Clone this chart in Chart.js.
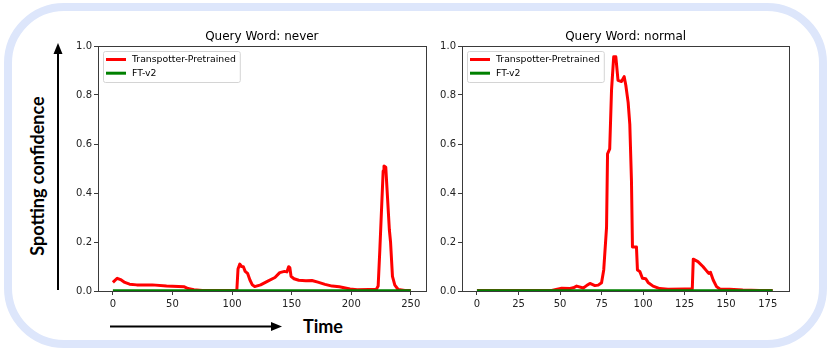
<!DOCTYPE html>
<html>
<head>
<meta charset="utf-8">
<script src="https://cdn.jsdelivr.net/npm/chart.js@4.4.1/dist/chart.umd.min.js"></script>
<style>
  html, body { margin: 0; padding: 0; background: #fff; }
  #page { position: relative; width: 830px; height: 352px; overflow: hidden; }
  #frame { position: absolute; left: 4px; top: 3px; width: 823px; height: 345px; box-sizing: border-box;
           border: 8px solid #dde6fb; border-radius: 60px; }
  canvas { position: absolute; }
  #neverChart { left: 60px; top: 20px; }
  #normalChart { left: 430px; top: 20px; }
  svg { position: absolute; left: 0; top: 0; }
  .axisLabel { position: absolute; font-family: Lato, sans-serif; font-weight: 700; color: #000; white-space: nowrap; line-height: 1; }
  #ylabel { left: 37px; top: 176px; font-size: 18px; transform: translate(-50%, -50%) rotate(-90deg); }
  #xlabel { left: 303px; top: 326px; font-size: 18px; transform: translateY(-50%); }
</style>
</head>
<body>
<div id="page">
  <div id="frame"></div>
  <svg width="830" height="352">
    <line x1="58" y1="290" x2="58" y2="52" stroke="#000" stroke-width="2"/>
    <polygon points="58,43 53.5,54 62.5,54" fill="#000"/>
    <line x1="110" y1="326.5" x2="272" y2="326.5" stroke="#000" stroke-width="2"/>
    <polygon points="282,326.5 271,322 271,331" fill="#000"/>
  </svg>
  <div class="axisLabel" id="ylabel">Spotting confidence</div>
  <div class="axisLabel" id="xlabel">Time</div>
  <canvas id="neverChart" width="372" height="293"></canvas>
  <canvas id="normalChart" width="365" height="293"></canvas>
</div>
<script>
// series labels
const seriesNames = ['Transpotter-Pretrained', 'FT-v2'];

// query word "never"
const neverX = [0, 3.6, 7, 10, 14, 20, 33, 45, 55, 60, 63, 68, 75, 104, 105, 106.5, 108, 109.5, 111, 113, 115, 117, 119,
  124, 130, 136, 140, 144, 146, 147.5, 148.5, 149.5, 152, 156, 162, 167, 172, 178, 184, 190, 195, 199, 205, 215, 221,
  222.6, 224, 226.8, 227.5, 229, 230, 232, 233, 234.6, 236.6, 239.4, 245, 250];
const neverY = [0.035, 0.052, 0.045, 0.035, 0.028, 0.025, 0.025, 0.02, 0.018, 0.017, 0.01, 0.005, 0.002, 0.002, 0.09, 0.11, 0.1, 0.099, 0.08, 0.072, 0.045, 0.025, 0.018,
  0.025, 0.04, 0.055, 0.075, 0.08, 0.078, 0.099, 0.095, 0.06, 0.05, 0.044, 0.042, 0.043, 0.036, 0.027, 0.02, 0.017, 0.012, 0.008, 0.005, 0.006, 0.006,
  0.02, 0.167, 0.49, 0.51, 0.505, 0.42, 0.25, 0.2, 0.06, 0.024, 0.006, 0.002, 0.002];
const neverFtX = [0, 250];
const neverFtY = [0.002, 0.002];

// query word "normal"
const normalX = [0, 45, 47, 51, 56, 58, 60, 64, 66, 68, 71, 73, 75, 76.3, 78, 78.6, 79.9, 81, 82.3, 83.6, 84.9, 87, 88.6, 89.6,
  91, 92, 93, 93.6, 96, 96.6, 98, 99.6, 101.6, 103, 106, 110, 115, 125, 129.6, 130.2, 133, 136, 138.6, 139.6, 140.6, 142.2,
  144.2, 146.2, 152, 160, 170, 178];
const normalY = [0.002, 0.002, 0.005, 0.011, 0.01, 0.013, 0.02, 0.012, 0.022, 0.031, 0.022, 0.024, 0.034, 0.086, 0.26, 0.56, 0.58, 0.82, 0.956, 0.956, 0.86, 0.855, 0.875, 0.84,
  0.77, 0.68, 0.45, 0.18, 0.18, 0.086, 0.08, 0.052, 0.05, 0.035, 0.02, 0.01, 0.007, 0.008, 0.008, 0.13, 0.12, 0.1, 0.079, 0.072, 0.076, 0.045,
  0.018, 0.008, 0.007, 0.004, 0.002, 0.002];
const normalFtX = [0, 178];
const normalFtY = [0.002, 0.002];

const neverTicks = [0, 50, 100, 150, 200, 250];
const normalTicks = [0, 25, 50, 75, 100, 125, 150, 175];
const yTicks = [0, 0.2, 0.4, 0.6, 0.8, 1.0];

const toPoints = (xs, ys) => xs.map((x, i) => ({ x, y: ys[i] }));

// title over the plot, box spines, legend inside the plot
const plotDecor = {
  id: 'plotDecor',
  afterDatasetsDraw(chart, args, opts) {
    const { ctx, chartArea: a } = chart;
    ctx.save();
    ctx.strokeStyle = '#3a3a3a';
    ctx.lineWidth = 1;
    ctx.strokeRect(Math.round(a.left) + 0.5, Math.round(a.top) + 0.5, Math.round(a.right - a.left), Math.round(a.bottom - a.top));

    ctx.font = '12px "DejaVu Sans"';
    ctx.fillStyle = '#000';
    ctx.textAlign = 'center';
    ctx.textBaseline = 'middle';
    ctx.fillText(opts.text, (a.left + a.right) / 2, a.top - 9.5);

    ctx.font = '9.3px "DejaVu Sans"';
    const sets = chart.data.datasets;
    const w = Math.max(...sets.map(d => ctx.measureText(d.label).width)) + 33;
    const x = a.left + 5, y = a.top + 5, h = 31;
    ctx.beginPath();
    ctx.roundRect(x + 0.5, y + 0.5, w, h, 2);
    ctx.fillStyle = 'rgba(255,255,255,0.8)';
    ctx.fill();
    ctx.strokeStyle = '#d4d4d4';
    ctx.stroke();
    ctx.textAlign = 'left';
    sets.forEach((d, i) => {
      const cy = y + 8.5 + i * 13.7;
      ctx.beginPath();
      ctx.moveTo(x + 3, cy);
      ctx.lineTo(x + 23, cy);
      ctx.strokeStyle = d.borderColor;
      ctx.lineWidth = 3;
      ctx.stroke();
      ctx.fillStyle = '#000';
      ctx.fillText(d.label, x + 29, cy);
    });
    ctx.restore();
  }
};

function makeChart(id, title, red, green, xMin, xMax, xTicks, yWidth, padRight) {
  new Chart(document.getElementById(id), {
    type: 'line',
    data: {
      datasets: [
        { label: seriesNames[0], data: red, borderColor: '#ff0000', borderWidth: 3, pointRadius: 0, tension: 0, order: 1, borderJoinStyle: 'round' },
        { label: seriesNames[1], data: green, borderColor: '#008000', borderWidth: 2.5, pointRadius: 0, tension: 0, order: 0 }
      ]
    },
    options: {
      responsive: false,
      animation: false,
      devicePixelRatio: 1,
      layout: { padding: { top: 26, right: padRight, left: 0, bottom: 0 } },
      plugins: {
        legend: { display: false },
        tooltip: { enabled: false },
        plotDecor: { text: title }
      },
      scales: {
        x: {
          type: 'linear', min: xMin, max: xMax,
          afterBuildTicks: s => { s.ticks = xTicks.map(v => ({ value: v })); },
          afterFit: s => { s.height = 22; },
          grid: { drawOnChartArea: false, drawTicks: true, tickLength: 4, color: '#3a3a3a' },
          border: { display: true, color: '#3a3a3a', width: 1 },
          ticks: { font: { family: 'DejaVu Sans', size: 10 }, color: '#222', padding: 3, maxRotation: 0 }
        },
        y: {
          min: 0, max: 1,
          afterBuildTicks: s => { s.ticks = yTicks.map(v => ({ value: v })); },
          afterFit: s => { s.width = yWidth; },
          grid: { drawOnChartArea: false, drawTicks: true, tickLength: 4, color: '#3a3a3a' },
          border: { display: true, color: '#3a3a3a', width: 1 },
          ticks: { font: { family: 'DejaVu Sans', size: 10 }, color: '#222', padding: 2, callback: v => v.toFixed(1) }
        }
      }
    },
    plugins: [plotDecor]
  });
}

makeChart('neverChart', 'Query Word: never', toPoints(neverX, neverY), toPoints(neverFtX, neverFtY), -12.5, 262.5, neverTicks, 38, 6.3);
makeChart('normalChart', 'Query Word: normal', toPoints(normalX, normalY), toPoints(normalFtX, normalFtY), -9, 188, normalTicks, 32, 5.7);
</script>
</body>
</html>
